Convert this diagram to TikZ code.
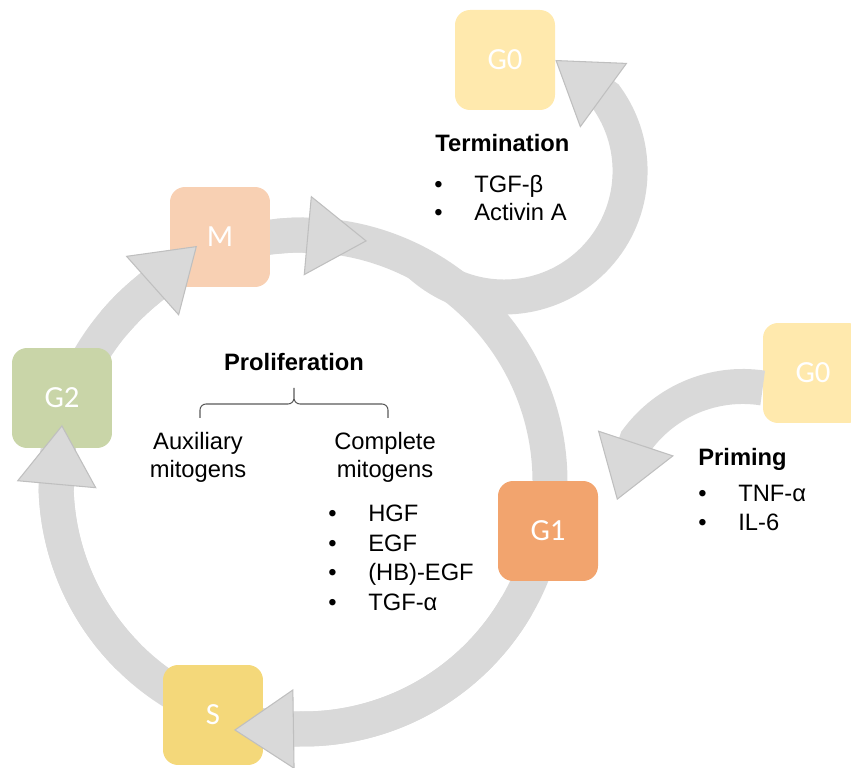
\documentclass[tikz,border=0pt]{standalone}
\usepackage{fontspec}
\setmainfont{Liberation Sans}
\newfontfamily\phasefont{Carlito}
\usetikzlibrary{arrows.meta, positioning, calc}
\definecolor{ringgrey}{HTML}{D9D9D9}
\definecolor{headedge}{HTML}{BFBFBF}
\definecolor{bracegrey}{HTML}{595959}
\definecolor{gzero}{HTML}{FFE9AD}
\definecolor{mphase}{HTML}{F8D0B3}
\definecolor{gtwo}{HTML}{C9D5A8}
\definecolor{gone}{HTML}{F2A46E}
\definecolor{sphase}{HTML}{F4D87A}

\begin{document}
\begin{tikzpicture}[x=0.02cm, y=0.02cm,
  phase/.style={rounded corners=0.3cm, minimum size=2cm, inner sep=0pt, text=white,
    font=\phasefont\fontsize{17.5}{19}\selectfont},
  band/.style={draw=ringgrey, line width=0.7cm},
  flow/.style={band, -{Triangle[length=1.2cm, width=1.6cm, line width=0.6pt, color=headedge, fill=ringgrey]}},
  txt/.style={inner sep=0pt, font=\fontsize{13.5}{16}\selectfont},
  listhead/.style={txt, anchor=west, font=\bfseries\fontsize{13.5}{16}\selectfont, text height=9.7pt, text depth=0pt},
  listitem/.style={txt, anchor=west, text height=9.7pt, text depth=0pt},
]
\useasboundingbox (0,0) rectangle (851,767);
\clip (0,0) rectangle (851,767);

% cycle ring
\coordinate (ringc) at (303,285);
\draw[band] (ringc) circle[radius=247];

% phases
\node[phase, fill=gzero]  (g0t) at (505,707) {G0};
\node[phase, fill=mphase] (m)   at (220,530) {M};
\node[phase, fill=gtwo]   (g2)  at (62,369)  {G2};
\node[phase, fill=gone]   (g1)  at (548,236) {G1};
\node[phase, fill=sphase] (s)   at (213,52)  {S};
\node[phase, fill=gzero]  (g0r) at (813,394) {G0};

% arrow tips
\coordinate (s-tip)     at (234,37);
\coordinate (g2-tip)    at (62,342);
\coordinate (m-tip)     at (197,521);
\coordinate (top-tip)   at (367,526);
\coordinate (prime-tip) at (617,267);

% flows round the cycle
\draw[flow] ([shift={(-30:247)}]ringc) arc[start angle=-30, end angle=-90.5, radius=247] -- (s-tip);
\draw[flow] ([shift={(-135:247)}]ringc) arc[start angle=-135, end angle=-178, radius=247] -- (g2-tip);
\draw[flow] ([shift={(140:247)}]ringc) arc[start angle=140, end angle=129, radius=247] -- (m-tip);
\draw[flow] ([shift={(96:247)}]ringc) arc[start angle=96, end angle=90.5, radius=247] -- (top-tip);

% termination and priming
\draw[flow] ([shift={(62:247)}]ringc) arc[start angle=-132.5, end angle=36, radius=126] -- (g0t.east);
\draw[flow] ([yshift=-0.3cm]g0r.west) arc[start angle=81.3, end angle=143.6, radius=131.5] -- (prime-tip);

% termination
\node[listhead] (termhead) at (435,624) {Termination};
\node[listitem] (tgfb)    at (434,583) {\makebox[0.8cm][l]{\textbullet}TGF-β};
\node[listitem] (activin) at (434,555) {\makebox[0.8cm][l]{\textbullet}Activin A};

% proliferation
\node[txt, font=\bfseries\fontsize{13.5}{16}\selectfont] (prolif) at (294,405) {Proliferation};
\draw[bracegrey, line width=0.6pt, rounded corners=0.12cm]
  (200,349) |- (294,363) -- (294,379)
  (388,349) |- (294,363) -- (294,379);
\node[txt, align=center] (aux)  at (198,310) {Auxiliary\\mitogens};
\node[txt, align=center] (comp) at (385,310) {Complete\\mitogens};
\foreach \name/\lbl [count=\i from 0] in {hgf/HGF, egf/EGF, hbegf/{(HB)-EGF}, tgfa/TGF-α}
  \node[listitem] (\name) at (328, 254-29.7*\i) {\makebox[0.8cm][l]{\textbullet}\lbl};

% priming
\node[listhead] (primhead) at (698,310) {Priming};
\node[listitem] (tnfa) at (698,274) {\makebox[0.8cm][l]{\textbullet}TNF-α};
\node[listitem] (il6)  at (698,245) {\makebox[0.8cm][l]{\textbullet}IL-6};
\end{tikzpicture}
\end{document}
